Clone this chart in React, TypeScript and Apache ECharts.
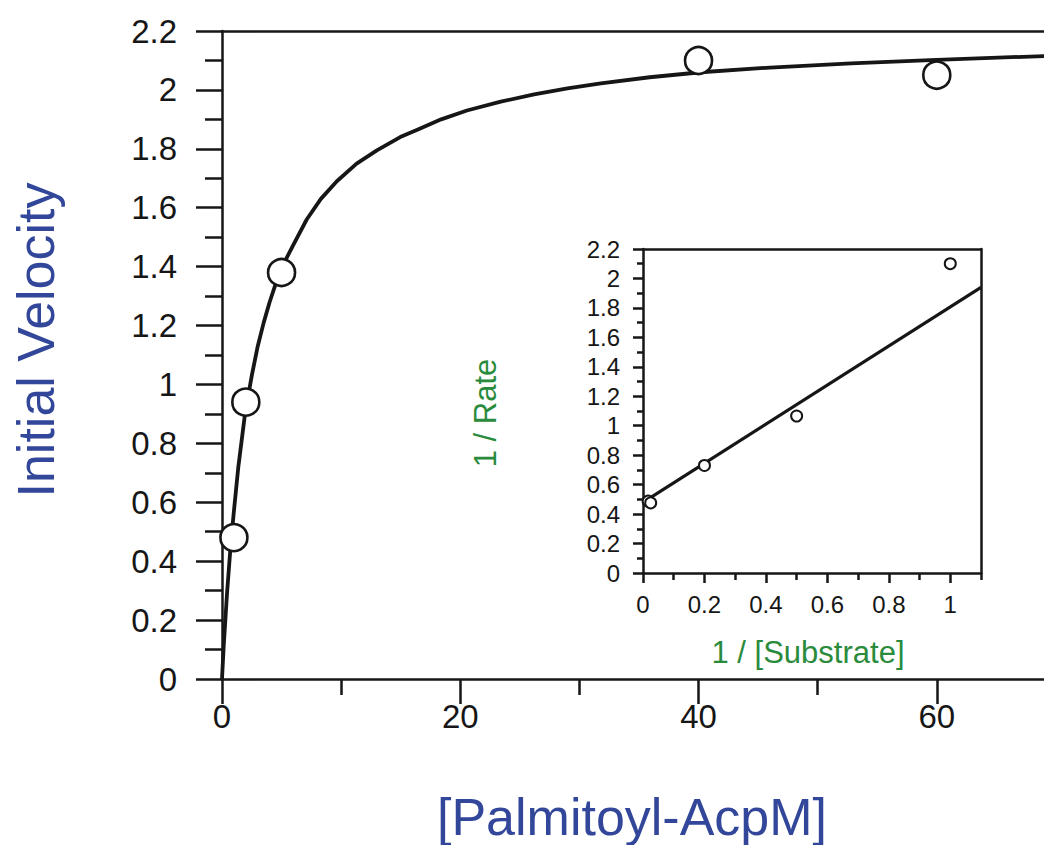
import React, { useEffect, useRef } from "react";
import * as echarts from "echarts";

// Saturation curve: substrate concentration vs. initial velocity (fitted curve, read point by point)
const curveX = [0, 0.14, 0.42, 0.72, 1.0, 1.37, 1.93, 2.5, 3.0, 3.5, 4.0, 4.45, 5.0, 5.43, 6.0, 7.11, 8.3, 9.64, 11.3, 13.0, 14.96, 16.4, 18.4, 20.56, 23.4, 26.2, 29, 31.8, 35.9, 40.2, 46, 52.8, 60, 69];
const curveY = [0, 0.11, 0.29, 0.45, 0.57, 0.72, 0.9, 1.03, 1.13, 1.21, 1.28, 1.335, 1.39, 1.43, 1.475, 1.56, 1.63, 1.69, 1.75, 1.795, 1.84, 1.865, 1.9, 1.93, 1.96, 1.985, 2.005, 2.022, 2.043, 2.06, 2.076, 2.09, 2.102, 2.115];

// Measured points
const substrate = [1, 2, 5, 40, 60];
const velocity = [0.48, 0.94, 1.38, 2.1, 2.05];

// Lineweaver-Burk inset
const invSubstrate = [0.0167, 0.025, 0.2, 0.5, 1.0];
const invRate = [0.488, 0.476, 0.73, 1.066, 2.1];
const fitX = [0, 1.1];
const fitY = [0.48, 1.94];

// Axis ticks
const mainXMajor = [0, 20, 40, 60];
const mainXMinor = [10, 30, 50];
const insetXMajor = [0, 0.2, 0.4, 0.6, 0.8, 1];
const insetXMinor = [0.1, 0.3, 0.5, 0.7, 0.9, 1.1];

const FONT = "'Liberation Sans', Arial, Helvetica, sans-serif";
const INK = "#161616";
const BLUE = "#33479a";
const GREEN = "#2a8b3c";

export default function App() {
  const ref = useRef<HTMLDivElement>(null);

  useEffect(() => {
    if (!ref.current) return;
    const chart = echarts.init(ref.current, null, { renderer: "svg" });

    const lineStyle = { color: INK, width: 2.5 };
    const hidden = { show: false };

    const option: any = {
      animation: false,
      backgroundColor: "#ffffff",
      grid: [
        { left: 222, top: 31, width: 822, height: 648, outerBoundsMode: "none" },
        { left: 643, top: 249, width: 338, height: 324, outerBoundsMode: "none" },
      ],
      xAxis: [
        {
          gridIndex: 0, type: "value", position: "bottom", min: 0, max: 69,
          axisLine: { show: true, onZero: false, lineStyle },
          axisTick: { show: true, inside: false, length: 25, customValues: mainXMajor, lineStyle },
          axisLabel: { show: true, customValues: mainXMajor, margin: 21, color: INK, fontSize: 33, fontFamily: FONT },
          splitLine: hidden,
        },
        {
          gridIndex: 0, type: "value", position: "bottom", min: 0, max: 69,
          axisLine: { show: false, onZero: false },
          axisTick: { show: true, inside: false, length: 16, customValues: mainXMinor, lineStyle },
          axisLabel: hidden, splitLine: hidden,
        },
        {
          gridIndex: 0, type: "value", position: "top", min: 0, max: 69,
          axisLine: { show: true, onZero: false, lineStyle },
          axisTick: hidden, axisLabel: hidden, splitLine: hidden,
        },
        {
          gridIndex: 1, type: "value", position: "bottom", min: 0, max: 1.1,
          axisLine: { show: true, onZero: false, lineStyle },
          axisTick: { show: true, inside: false, length: 10, customValues: insetXMajor, lineStyle },
          axisLabel: { show: true, customValues: insetXMajor, margin: 19, color: INK, fontSize: 24, fontFamily: FONT },
          splitLine: hidden,
        },
        {
          gridIndex: 1, type: "value", position: "bottom", min: 0, max: 1.1,
          axisLine: { show: false, onZero: false },
          axisTick: { show: true, inside: false, length: 7, customValues: insetXMinor, lineStyle },
          axisLabel: hidden, splitLine: hidden,
        },
        {
          gridIndex: 1, type: "value", position: "top", min: 0, max: 1.1,
          axisLine: { show: true, onZero: false, lineStyle },
          axisTick: hidden, axisLabel: hidden, splitLine: hidden,
        },
      ],
      yAxis: [
        {
          gridIndex: 0, type: "value", position: "left", min: 0, max: 2.2, interval: 0.2,
          axisLine: { show: true, onZero: false, lineStyle },
          axisTick: { show: true, inside: false, length: 26, lineStyle },
          minorTick: { show: true, splitNumber: 2, length: 17, lineStyle },
          axisLabel: { show: true, margin: 45, color: INK, fontSize: 33, fontFamily: FONT },
          splitLine: hidden, minorSplitLine: hidden,
        },
        {
          gridIndex: 1, type: "value", position: "left", min: 0, max: 2.2, interval: 0.2,
          axisLine: { show: true, onZero: false, lineStyle },
          axisTick: { show: true, inside: false, length: 10, lineStyle },
          minorTick: { show: true, splitNumber: 2, length: 6, lineStyle },
          axisLabel: { show: true, margin: 23, color: INK, fontSize: 24, fontFamily: FONT },
          splitLine: hidden, minorSplitLine: hidden,
        },
        {
          gridIndex: 1, type: "value", position: "right", min: 0, max: 2.2,
          axisLine: { show: true, onZero: false, lineStyle },
          axisTick: hidden, axisLabel: hidden, splitLine: hidden,
        },
      ],
      series: [
        {
          type: "line",
          xAxisIndex: 0, yAxisIndex: 0,
          data: curveX.map((x, i) => [x, curveY[i]]),
          smooth: false,
          showSymbol: false,
          symbol: "none",
          lineStyle: { color: INK, width: 3.8, join: "round", cap: "round" },
          z: 2,
        },
        {
          type: "scatter",
          xAxisIndex: 0, yAxisIndex: 0,
          data: substrate.map((x, i) => [x, velocity[i]]),
          symbol: "circle",
          symbolSize: 27,
          itemStyle: { color: "#ffffff", borderColor: INK, borderWidth: 2.6, opacity: 1 },
          z: 3,
        },
        {
          type: "line",
          xAxisIndex: 3, yAxisIndex: 1,
          data: fitX.map((x, i) => [x, fitY[i]]),
          showSymbol: false,
          symbol: "none",
          lineStyle: { color: INK, width: 3.2 },
          z: 2,
        },
        {
          type: "scatter",
          xAxisIndex: 3, yAxisIndex: 1,
          data: invSubstrate.map((x, i) => [x, invRate[i]]),
          symbol: "circle",
          symbolSize: 11,
          itemStyle: { color: "#ffffff", borderColor: INK, borderWidth: 2, opacity: 1 },
          z: 3,
        },
      ],
      graphic: [
        {
          type: "text", x: 36, y: 340, rotation: Math.PI / 2,
          style: { text: "Initial Velocity", fill: BLUE, fontSize: 52, fontFamily: FONT, align: "center", verticalAlign: "middle" },
        },
        {
          type: "text", x: 632, y: 817,
          style: { text: "[Palmitoyl-AcpM]", fill: BLUE, fontSize: 52, fontFamily: FONT, align: "center", verticalAlign: "middle" },
        },
        {
          type: "text", x: 485, y: 413, rotation: Math.PI / 2,
          style: { text: "1 / Rate", fill: GREEN, fontSize: 31, fontFamily: FONT, align: "center", verticalAlign: "middle" },
        },
        {
          type: "text", x: 808, y: 652,
          style: { text: "1 / [Substrate]", fill: GREEN, fontSize: 31, fontFamily: FONT, align: "center", verticalAlign: "middle" },
        },
      ],
    };

    chart.setOption(option);
    return () => chart.dispose();
  }, []);

  return (
    <div
      ref={ref}
      style={{ position: "absolute", left: 0, top: 0, width: 1044, height: 845, background: "#ffffff" }}
    />
  );
}
